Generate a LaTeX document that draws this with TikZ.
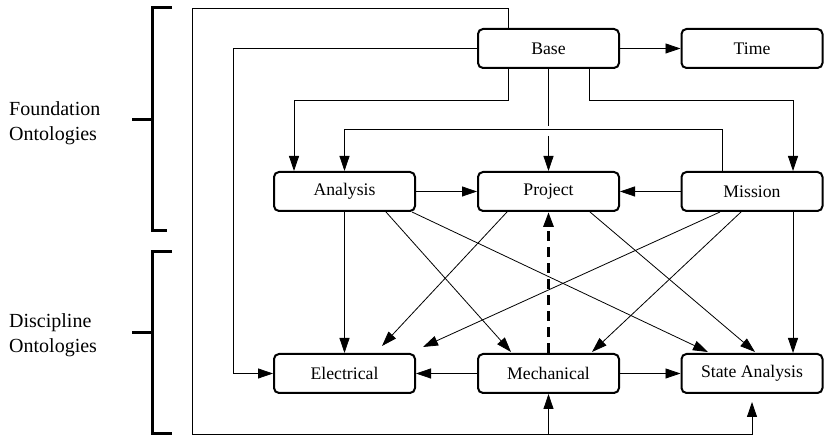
\documentclass[tikz,border=0pt]{standalone}
\usepackage{fontspec}
\setmainfont{Liberation Serif}
\usetikzlibrary{arrows.meta,calc}
\begin{document}
\begin{tikzpicture}[x=1pt,y=1pt,
  box/.style={draw, line width=2pt, rounded corners=5pt, minimum width=141pt, minimum height=39pt, inner sep=0pt, font=\fontsize{17.7}{20}\selectfont},
  conn/.style={line width=0.8pt, -{Triangle[length=15pt,width=10pt]}},
  plain/.style={line width=0.8pt},
  dashconn/.style={line width=3pt, dash pattern=on 10pt off 6pt, -{Triangle[length=15pt,width=10pt]}},
  brk/.style={line width=3pt},
  lbl/.style={anchor=west, align=left, inner sep=0pt, font=\fontsize{20}{25.5}\selectfont}]
\useasboundingbox (0,0) rectangle (825,435);

% boxes
\node[box] (ba) at (548.5,386.5) {Base};
\node[box] (ti) at (752,386.5) {Time};
\node[box] (an) at (344.5,243.5) {Analysis};
\node[box] (pr) at (548.5,243.5) {Project};
\node[box] (mi) at (752,243.5) {Mission};
\node[box] (el) at (344.5,61.5) {Electrical};
\node[box] (me) at (548.5,61.5) {Mechanical};
\node[box] (sa) at (752,61.5) {State Analysis};

% side labels
\node[lbl] (fo) at (9,312) {Foundation\\Ontologies};
\node[lbl] (di) at (9,100) {Discipline\\Ontologies};

% brackets
\draw[brk] (172,427) -- (152,427) -- (152,204) -- (167,204);
\draw[brk] (132,315) -- (152,315);
\draw[brk] (172,183) -- (152,183) -- (152,1.5) -- (172,1.5);
\draw[brk] (132,102) -- (152,102);

\coordinate (bot) at (0,1);

% Base connectors
\draw[conn] (ba.east) -- (ti.west);
\draw[conn] ([xshift=-40.5pt]ba.north) |- (192,427) |- (752,1) -- ([yshift=-8pt]sa.south);
\draw[conn] (me.south |- bot) -- (me.south);
\draw[conn] (ba.west) -| ([xshift=-40pt]el.west) -- (el.west);
\draw[conn] ([xshift=-40.5pt]ba.south) -- ++(0,-31) -| ([xshift=-50.5pt]an.north);
\draw[conn] ([xshift=40.5pt]ba.south) -- ++(0,-31) -| ([xshift=41pt]mi.north);
\draw[conn] ([xshift=-30pt]mi.north) -- ++(0,42) -| (an.north);
\draw[plain] (ba.south) -- ++(0,-57);
\draw[conn] (ba.south) ++(0,-67) -- (pr.north);

% middle row
\draw[conn] (an.east) -- (pr.west);
\draw[conn] (mi.west) -- (pr.east);

% verticals
\draw[conn] (an.south) -- (el.north);
\draw[conn] ([xshift=41pt]mi.south) -- ([xshift=41pt]sa.north);

% diagonals
\draw[conn] ([xshift=41.5pt]an.south) -- ([xshift=-37.5pt,yshift=1pt]me.north);
\draw[conn] ([xshift=67.5pt]an.south) -- ([xshift=-44pt,yshift=1pt]sa.north);
\draw[conn] ([xshift=-41.5pt]pr.south) -- ([xshift=37.5pt,yshift=7pt]el.north);
\draw[conn] ([xshift=41.5pt]pr.south) -- ([xshift=3pt,yshift=1pt]sa.north);
\draw[conn] ([xshift=-32pt]mi.south) -- ([xshift=78.5pt,yshift=6pt]el.north);
\draw[conn] ([xshift=-11pt]mi.south) -- ([xshift=43.5pt,yshift=1pt]me.north);

% bottom row
\draw[conn] (me.west) -- (el.east);
\draw[conn] (me.east) -- (sa.west);
\draw[dashconn] (me.north) -- (pr.south);
\end{tikzpicture}
\end{document}
